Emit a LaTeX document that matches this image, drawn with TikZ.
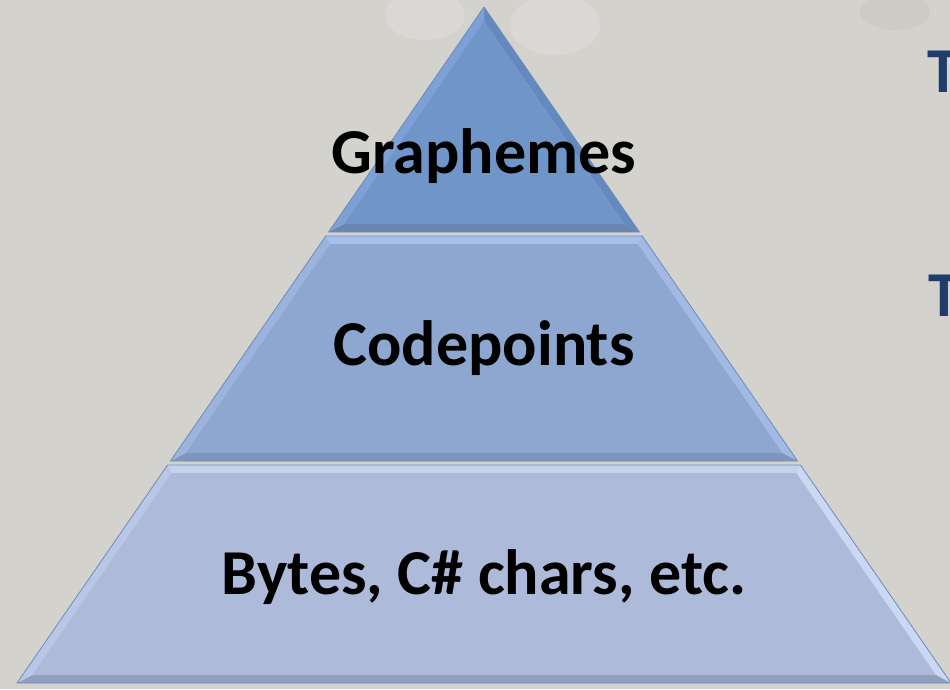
\documentclass[tikz,border=0pt]{standalone}
\usepackage{fontspec}
\setmainfont{Carlito}
\usetikzlibrary{calc}
\definecolor{bg}{HTML}{D3D2CD}
\definecolor{bgl}{HTML}{DEDDD9}
\definecolor{bgd}{HTML}{C6C5C0}
\definecolor{tnavy}{HTML}{1F3D68}
\definecolor{edge}{HTML}{6A8CBD}
% band 1
\definecolor{aMain}{HTML}{6F95C9}
\definecolor{aTop}{HTML}{82A6DA}
\definecolor{aLeft}{HTML}{7DA1D6}
\definecolor{aRight}{HTML}{6489BE}
\definecolor{aBot}{HTML}{6A86AE}
% band 2
\definecolor{bMain}{HTML}{8EA7D0}
\definecolor{bTop}{HTML}{A6BEE8}
\definecolor{bLeft}{HTML}{9BB3DD}
\definecolor{bRight}{HTML}{A2BAE3}
\definecolor{bBot}{HTML}{7F95BB}
% band 3
\definecolor{cMain}{HTML}{ADBADA}
\definecolor{cTop}{HTML}{C4D2EF}
\definecolor{cLeft}{HTML}{B9C7E7}
\definecolor{cRight}{HTML}{CBD8F4}
\definecolor{cBot}{HTML}{939EBE}
\tikzset{
  label/.style={font=\bfseries\fontsize{64}{70}\selectfont, text=black, inner sep=0pt, anchor=base},
  sidelabel/.style={font=\bfseries\fontsize{64}{70}\selectfont, text=tnavy, inner sep=0pt, anchor=base west},
  outline/.style={draw=edge, line width=0.8pt, line join=round},
}
\begin{document}
\begin{tikzpicture}[x=1pt,y=-1pt]
\useasboundingbox (0,0) rectangle (950,689);
\clip (0,0) rectangle (950,689);
\fill[bg] (0,0) rectangle (950,689);
% faint background texture
\fill[bgl, opacity=0.6] (425,15) ellipse (40 and 25);
\fill[bgl, opacity=0.6] (555,25) ellipse (45 and 30);
\fill[bgd, opacity=0.5] (895,12) ellipse (35 and 18);

% ---------- band 3 (bottom) ----------
\coordinate (c1) at (167.6,465);
\coordinate (c2) at (800.4,465);
\coordinate (c3) at (951,683);
\coordinate (c4) at (17,683);
\coordinate (ci1) at (171.8,473);
\coordinate (ci2) at (796.2,473);
\coordinate (ci3) at (935.8,675);
\coordinate (ci4) at (32.2,675);
\fill[cTop] (c1) -- (c2) -- (ci2) -- (ci1) -- cycle;
\fill[cRight] (c2) -- (c3) -- (ci3) -- (ci2) -- cycle;
\fill[cBot] (c3) -- (c4) -- (ci4) -- (ci3) -- cycle;
\fill[cLeft] (c4) -- (c1) -- (ci1) -- (ci4) -- cycle;
\fill[cMain] (ci1) -- (ci2) -- (ci3) -- (ci4) -- cycle;
\draw[outline] (c1) -- (c2) -- (c3) -- (c4) -- cycle;

% ---------- band 2 (middle) ----------
\coordinate (b1) at (325.8,236);
\coordinate (b2) at (642.2,236);
\coordinate (b3) at (797.6,461);
\coordinate (b4) at (170.4,461);
\coordinate (bi1) at (330.0,244);
\coordinate (bi2) at (638.0,244);
\coordinate (bi3) at (782.4,453);
\coordinate (bi4) at (185.6,453);
\fill[bTop] (b1) -- (b2) -- (bi2) -- (bi1) -- cycle;
\fill[bRight] (b2) -- (b3) -- (bi3) -- (bi2) -- cycle;
\fill[bBot] (b3) -- (b4) -- (bi4) -- (bi3) -- cycle;
\fill[bLeft] (b4) -- (b1) -- (bi1) -- (bi4) -- cycle;
\fill[bMain] (bi1) -- (bi2) -- (bi3) -- (bi4) -- cycle;
\draw[outline] (b1) -- (b2) -- (b3) -- (b4) -- cycle;

% ---------- band 1 (top) ----------
\coordinate (a1) at (484,7);
\coordinate (a2) at (639.4,232);
\coordinate (a3) at (328.6,232);
\coordinate (ai1) at (484,21.1);
\coordinate (ai2) at (624.2,224);
\coordinate (ai3) at (343.8,224);
\fill[aRight] (a1) -- (a2) -- (ai2) -- (ai1) -- cycle;
\fill[aBot] (a2) -- (a3) -- (ai3) -- (ai2) -- cycle;
\fill[aLeft] (a3) -- (a1) -- (ai1) -- (ai3) -- cycle;
\fill[aMain] (ai1) -- (ai2) -- (ai3) -- cycle;
\draw[outline] (a1) -- (a2) -- (a3) -- cycle;

% ---------- labels ----------
\node[label] (graph) at (484,173) {Graphemes};
\node[label] (code) at (484,365) {Codepoints};
\node[label] (bytes) at (484,594) {Bytes, C\# chars, etc.};

% cropped side text
\node[sidelabel] (t1) at (927,92) {T};
\node[sidelabel] (t2) at (928,316) {T};
\end{tikzpicture}
\end{document}
